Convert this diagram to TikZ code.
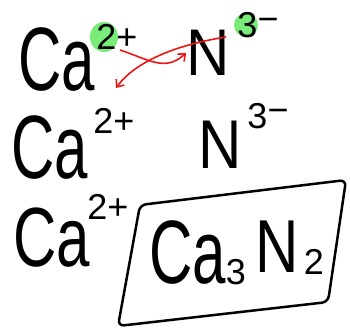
\documentclass[tikz,border=0pt]{standalone}
\usepackage{fontspec}
\setmainfont{Liberation Sans}
\usetikzlibrary{arrows.meta}
\begin{document}
\begin{tikzpicture}[x=1pt,y=-1pt]
\useasboundingbox[fill=white] (0,0) rectangle (350,331);
\tikzset{
  big/.style={font=\fontsize{60}{60}\selectfont, inner sep=0pt},
  supx/.style={font=\fontsize{36}{36}\selectfont, inner sep=0pt},
  hl/.style={fill={rgb,255:red,120;green,235;blue,120}},
  redarrow/.style={draw={rgb,255:red,240;green,20;blue,20}, line width=1.6pt, -{Straight Barb[length=6pt,width=10pt]}},
  boxline/.style={draw=black, line width=2.5pt, rounded corners=6pt, line join=round}
}
% highlights
\fill[hl] (104,37) ellipse (14 and 15);
\fill[hl] (246,25) circle (12);
% row 1
\node[big] (ca1) at (57,60) {\scalebox{1}[1.5]{Ca}};
\node[supx] (ca1s) at (117,37) {2+};
\node[big] (n1) at (208,53) {\scalebox{1}[1.1]{N}};
\node[supx] (n1s) at (258,25) {3\raisebox{6pt}{−}};
% row 2
\node[big] (ca2) at (50,148) {\scalebox{1}[1.5]{Ca}};
\node[supx] (ca2s) at (114,121) {2+};
\node[big] (n2) at (220,145) {\scalebox{1}[1.15]{N}};
\node[supx] (n2s) at (268,116) {3\raisebox{6pt}{−}};
% row 3
\node[big] (ca3) at (52,238) {\scalebox{1}[1.4]{Ca}};
\node[supx] (ca3s) at (108,207) {2+};
% product
\node[big] (ca4) at (188,253) {\scalebox{1}[1.5]{Ca}};
\node[supx] (ca4s) at (236,272) {3};
\node[big] (n4) at (277,247) {\scalebox{1}[1.25]{N}};
\node[supx] (n4s) at (314,262) {2};
\draw[boxline] (140,205) -- (346,180) -- (328,302) -- (118,326) -- cycle;
% red arrows
\coordinate (r1s) at (120,50);
\coordinate (r2s) at (226,37);
\coordinate (r2e) at (116,88);
\draw[redarrow] (r1s) .. controls (150,60) and (165,72) .. (n1.west);
\draw[redarrow] (r2s) .. controls (175,45) and (135,62) .. (r2e);
\end{tikzpicture}
\end{document}
